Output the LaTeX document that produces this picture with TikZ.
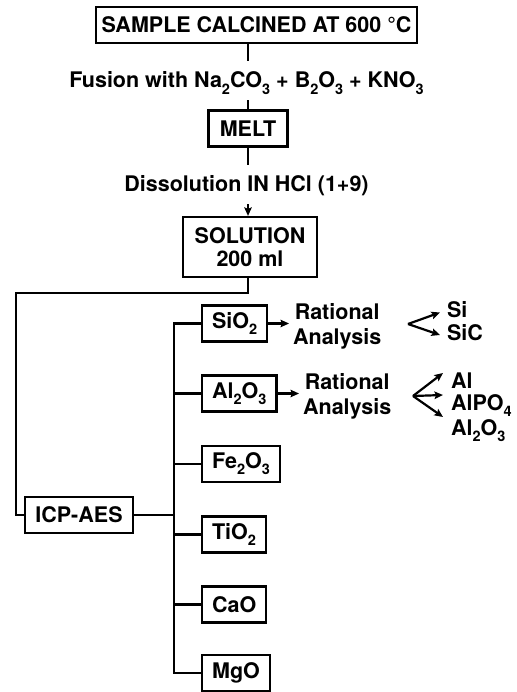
\documentclass[tikz,border=0pt]{standalone}
\usepackage{fontspec}
\setmainfont{TeX Gyre Heros}
\usetikzlibrary{arrows.meta,calc}
\newcommand\chs[1]{\raisebox{-0.28em}{\fontsize{14.5}{14.5}\selectfont #1}}
\begin{document}
\begin{tikzpicture}[x=1pt,y=-1pt,line width=2.2pt,
  font=\fontsize{21.5}{25}\selectfont\bfseries,
  box/.style={draw,line width=2.2pt,minimum height=36pt,inner xsep=10pt,inner ysep=0pt,align=center},
  lbl/.style={inner xsep=0pt,inner ysep=11pt,text height=15pt,text depth=0pt},
  prod/.style={anchor=west,inner xsep=6pt,inner ysep=0pt,text height=15pt,text depth=0pt},
  arr/.style={-{Stealth[length=8.5pt,width=7.5pt,inset=1.5pt]}}]
\useasboundingbox (0,0) rectangle (516,692);
% main column
\node[box,minimum width=321pt,inner xsep=4pt] (top) at (256.5,25) {SAMPLE CALCINED AT 600 °C};
\node[lbl] (fusion) at (246.5,80.5) {Fusion with Na\chs{2}CO\chs{3} + B\chs{2}O\chs{3} + KNO\chs{3}};
\node[box,minimum width=79pt,inner xsep=4pt] (melt) at (248,128.5) {MELT};
\node[lbl] (diss) at (246.5,184.5) {Dissolution IN HCl (1+9)};
\node[box,minimum width=134pt,minimum height=60pt,font=\fontsize{21.5}{23}\selectfont\bfseries] (sol) at (250,247) {SOLUTION\\200 ml};
\draw (top.south -| melt) -- (fusion.north -| melt);
\draw (fusion.south -| melt) -- (melt.north);
\draw (melt.south) -- (diss.north -| melt);
\draw[arr] (diss.south -| melt) -- (sol.north -| melt);
% ICP
\node[box,minimum width=108pt,inner xsep=4pt] (icp) at (79,515) {ICP-AES};
\coordinate (c1) at (16,293);
\draw (sol.south -| melt) |- (c1) |- (icp.west);
% oxides
\coordinate (bus) at (174,0);
\node[box,anchor=west] (sio2) at (201,323.5) {SiO\chs{2}};
\node[box,anchor=west] (al2o3) at (201,393.5) {Al\chs{2}O\chs{3}};
\node[box,anchor=west] (fe2o3) at (201,464) {Fe\chs{2}O\chs{3}};
\node[box,anchor=west] (tio2) at (201,534.5) {TiO\chs{2}};
\node[box,anchor=west] (cao) at (201,604.5) {CaO};
\node[box,anchor=west] (mgo) at (201,673) {MgO};
\draw (sio2.west) -| (bus |- mgo.west) -- (mgo.west);
\draw (al2o3.west) -- (al2o3.west -| bus);
\draw (fe2o3.west) -- (fe2o3.west -| bus);
\draw (tio2.west) -- (tio2.west -| bus);
\draw (cao.west) -- (cao.west -| bus);
\draw (icp.east) -- (icp.east -| bus);
% rational analysis
\node[anchor=west,inner xsep=3pt,align=center] (rat1) at (289,326) {Rational\\Analysis};
\node[anchor=west,inner xsep=3pt,align=center] (rat2) at (299,396) {Rational\\Analysis};
\draw[arr] (sio2.east) -- (sio2.east -| rat1.west);
\draw[arr] (al2o3.east) -- (al2o3.east -| rat2.west);
% products
\coordinate (f1) at (408,324);
\coordinate (f2) at (413,396);
\node[prod] (si) at (440,309.5) {Si};
\node[prod] (sic) at (440,332.5) {SiC};
\node[prod,inner xsep=7pt] (al) at (443,380.5) {Al};
\node[prod,inner xsep=7pt] (alpo4) at (443,402.5) {AlPO\chs{4}};
\node[prod,inner xsep=7pt] (alo) at (443,427.5) {Al\chs{2}O\chs{3}};
\draw[arr] (f1) -- ([yshift=-3pt]si.west);
\draw[arr] (f1) -- ([yshift=-2.5pt]sic.west);
\draw[arr] (f2) -- ([yshift=7.5pt]al.west);
\draw[arr] (f2) -- ([yshift=7.5pt]alpo4.west);
\draw[arr] (f2) -- ([yshift=10.5pt]alo.west);
\end{tikzpicture}
\end{document}
